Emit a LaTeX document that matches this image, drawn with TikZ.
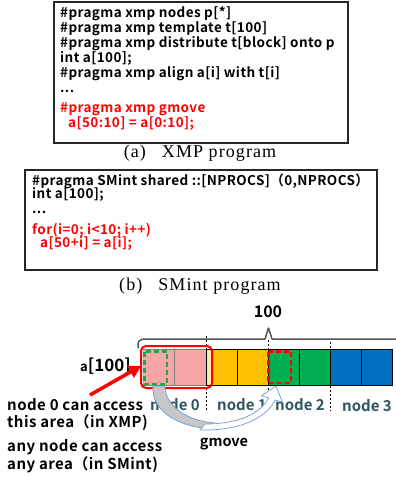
\documentclass[tikz,border=0pt]{standalone}
\usepackage{fontspec}
\setmainfont{Liberation Serif}
\newfontfamily\jp{Noto Sans CJK JP}[BoldFont={Noto Sans CJK JP Bold}]
\newfontfamily\jpwide{Noto Sans CJK JP}[BoldFont={Noto Sans CJK JP Bold},LetterSpace=3]
\newfontfamily\capfont{Liberation Serif}[LetterSpace=6]
\usetikzlibrary{arrows.meta}
\definecolor{pinkcell}{RGB}{246,166,166}
\definecolor{paleyel}{RGB}{255,233,170}
\definecolor{yelcell}{RGB}{255,192,0}
\definecolor{grncell}{RGB}{0,176,80}
\definecolor{blucell}{RGB}{0,112,192}
\definecolor{dashgrn}{RGB}{30,165,80}
\definecolor{labelc}{RGB}{48,84,96}
\definecolor{arrowblue}{RGB}{110,155,210}
\definecolor{bracegray}{RGB}{85,85,85}
\begin{document}
\begin{tikzpicture}[x=1pt,y=-1pt,
  code/.style={anchor=base west,inner sep=0pt,text height=9.5pt,text depth=2.5pt,
    font=\jpwide\bfseries\fontsize{13.5}{15}\selectfont},
  redcode/.style={code,text=red},
  caption/.style={inner sep=0pt,font=\capfont\fontsize{18}{20}\selectfont},
  prog/.style={draw=black!85,line width=1.1pt},
  cell/.style={draw=black,line width=0.7pt},
  nodelab/.style={inner sep=0pt,text=labelc,font=\jp\bfseries\fontsize{15}{17}\selectfont},
  note/.style={anchor=west,inner sep=0pt,font=\jpwide\bfseries\fontsize{15}{17}\selectfont},
  vsep/.style={draw=black,line width=0.6pt,dash pattern=on 2pt off 2pt}]
\useasboundingbox (0,0) rectangle (396,477);

% (a) XMP program
\draw[prog] (54,2) rectangle (348,143);
\node[code] (a1) at (60,17) {\#pragma xmp nodes p[*]};
\node[code] (a2) at (60,32) {\#pragma xmp template t[100]};
\node[code] (a3) at (60,47) {\#pragma xmp distribute t[block] onto p};
\node[code] (a4) at (60,62) {int a[100];};
\node[code] (a5) at (60,77) {\#pragma xmp align a[i] with t[i]};
\node[code] (a6) at (60,92) {...};
\node[redcode] (a7) at (60,112) {\#pragma xmp gmove};
\node[redcode] (a8) at (68,127) {a[50:10] = a[0:10];};
\node[caption] (capa) at (200,153) {(a)\hspace{16pt}XMP program};

% (b) SMint program
\draw[prog] (25,170) rectangle (377,270);
\node[code] (b1) at (32,185) {\#pragma SMint shared ::[NPROCS]（0,NPROCS）};
\node[code] (b2) at (32,198.5) {int a[100];};
\node[code] (b3) at (32,213) {...};
\node[redcode] (b4) at (32,234) {for(i=0; i<10; i++)};
\node[redcode] (b5) at (40,247.5) {a[50+i] = a[i];};
\node[caption] (capb) at (200,286) {(b)\hspace{16pt}SMint program};

% size brace over the array
\node[inner sep=0pt,font=\jp\bfseries\fontsize{16}{18}\selectfont] (size) at (268,312) {100};
\draw[bracegray,line width=1.5pt,line join=round]
  (138,348) .. controls (138,341) .. (143,339) -- (265,339) -- (268.5,328) -- (272,339) -- (396,339);

% node boundaries
\draw[vsep] (206,336) -- (206,411);
\draw[vsep] (268,340) -- (268,396);
\draw[vsep] (330,342) -- (330,411);

% array cells
\fill[pinkcell] (143,349) rectangle (206,385);
\fill[paleyel] (206,349) rectangle (212,385);
\fill[yelcell] (212,349) rectangle (268,385);
\fill[grncell] (268,349) rectangle (330,385);
\fill[blucell] (330,349) rectangle (392,385);
\draw[gray,line width=0.7pt] (174,349) -- (174,385);
\foreach \xl in {237,268,299,330,361}
  \draw[cell] (\xl,349) -- (\xl,385);
\draw[cell] (206,349) rectangle (392,385);
\draw[gray,line width=0.7pt] (143,349) -- (206,349) (143,385) -- (206,385);

% source and destination of the copy
\draw[red,line width=2pt,rounded corners=5pt] (141,346) rectangle (212,388);
\draw[dashgrn,line width=2.5pt,dash pattern=on 5pt off 3pt] (144.5,351.5) rectangle (167,384);
\draw[red,line width=2.5pt,dash pattern=on 5pt off 3pt] (268.5,351.5) rectangle (291,383);

% node labels
\node[nodelab] (n0) at (175,405) {node 0};
\node[nodelab] (n1) at (242,405) {node 1};
\node[nodelab] (n2) at (300,405) {node 2};
\node[nodelab] (n3) at (367,406) {node 3};

% gmove curved arrow
\filldraw[fill=black!22,draw=arrowblue,line width=0.7pt]
  (153,386) .. controls (151,412) and (180,428) .. (215,429)
  -- (215,423) .. controls (186,421) and (165,405) .. (165,386) -- cycle;
\filldraw[fill=white,draw=arrowblue,line width=0.7pt,line join=round]
  (200,430) .. controls (240,431) and (266,418) .. (275.3,400)
  -- (282.5,402.3) -- (276,386) -- (261.5,395.7) -- (268.7,398)
  .. controls (260,414) and (238,424) .. (205,424) -- cycle;
\node[inner sep=0pt,font=\jp\bfseries\fontsize{14.5}{17}\selectfont] (gm) at (224,444) {gmove};

% array name and access notes
\node[inner sep=0pt,anchor=east,font=\jp\bfseries] (aname) at (131,366)
  {{\fontsize{13}{15}\selectfont a}{\fontsize{17}{19}\selectfont [100]}};
\node[note] (t1) at (7,405) {node 0 can access};
\node[note] (t2) at (7,423) {this area（in XMP)};
\node[note] (t3) at (7,447) {any node can access};
\node[note] (t4) at (7,465) {any area（in SMint)};
\coordinate (tail) at (90,395);
\coordinate (tip) at (141,366);
\draw[red,line width=3.5pt,-{Triangle[length=12pt,width=13pt]}] (tail) -- (tip);
\end{tikzpicture}
\end{document}
